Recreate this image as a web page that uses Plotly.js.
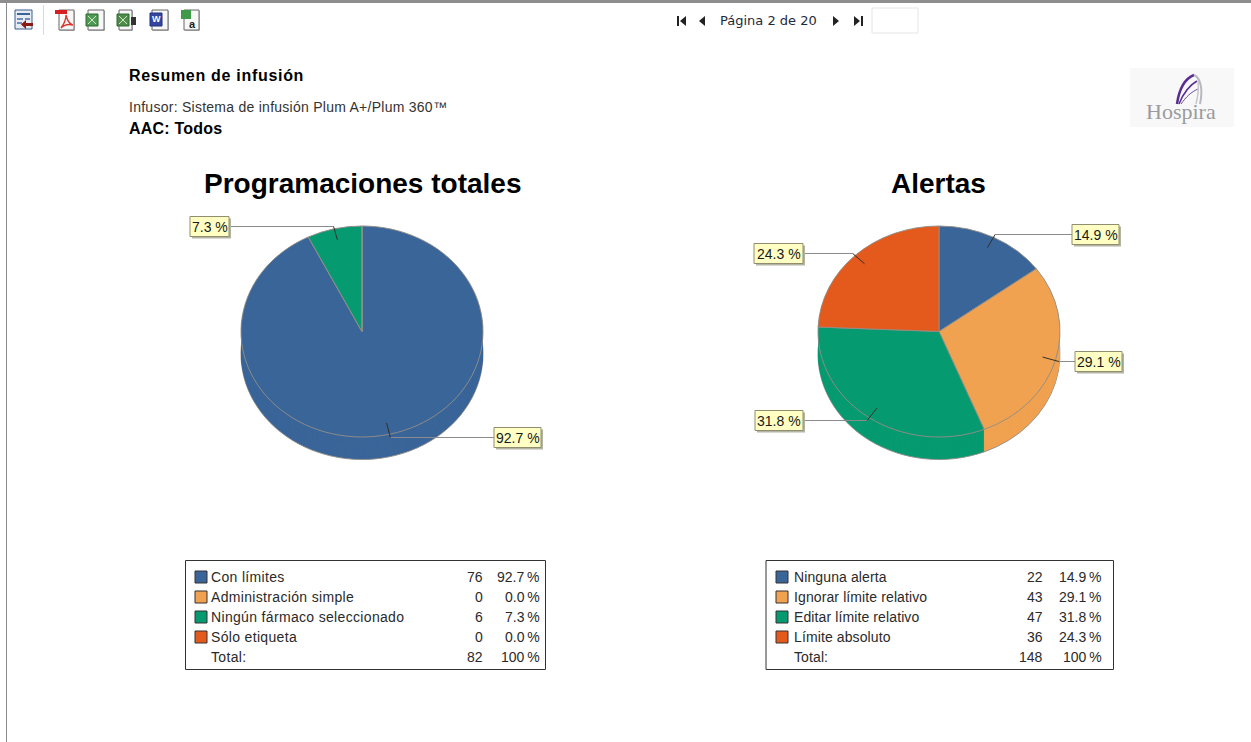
<!DOCTYPE html>
<html><head><meta charset="utf-8">
<script src="https://cdn.plot.ly/plotly-3.0.1.min.js"></script>
<style>html,body{margin:0;padding:0;background:#fff;overflow:hidden}</style>
</head><body><div id="chart" style="width:1251px;height:742px"></div>
<script>
// ---- data ----
const leftTitle = "Programaciones totales";
const leftCategories = ["Con límites", "Administración simple", "Ningún fármaco seleccionado", "Sólo etiqueta"];
const leftValues = [76, 0, 6, 0];
const leftPercents = ["92.7", "0.0", "7.3", "0.0"];
const leftTotal = 82;
const rightTitle = "Alertas";
const rightCategories = ["Ninguna alerta", "Ignorar límite relativo", "Editar límite relativo", "Límite absoluto"];
const rightValues = [22, 43, 47, 36];
const rightPercents = ["14.9", "29.1", "31.8", "24.3"];
const rightTotal = 148;
const sliceColors = ["#3a6599", "#f0a250", "#069a70", "#e35a1c"];

// ---- page geometry ----
const W = 1251, H = 742;
const fx = p => p / W, fy = p => 1 - p / H;
const RX = 121, RY = 105.5, CY = 331.5, DEPTH = 22.5, K = RY / RX;
const shapes = [], annotations = [], traces = [], spacing = [];

function text(x, y, t, size, opts) {
  opts = opts || {};
  spacing.push(opts.ls || 0);
  annotations.push({xref:'paper', yref:'paper', x:fx(x), y:fy(y), text:t, showarrow:false,
    xanchor:opts.anchor||'left', yanchor:'middle', borderpad:0, borderwidth:0,
    font:{family:opts.family||'"Liberation Sans", Arial, sans-serif', size:size, color:opts.color||'#1a1a1a',
      weight:opts.bold?700:400, style:opts.italic?'italic':'normal'}});
}
function rect(x0, y0, x1, y1, fill, line, lw) {
  shapes.push({type:'rect', xref:'paper', yref:'paper', x0:fx(x0), x1:fx(x1), y0:fy(y1), y1:fy(y0),
    fillcolor:fill||'rgba(0,0,0,0)', line:{color:line||'rgba(0,0,0,0)', width:lw===undefined?(line?1:0):lw}});
}
function seg(pts, color, w) {
  pts.slice(1).forEach((p, i) => shapes.push({type:'line', xref:'paper', yref:'paper',
    x0:fx(pts[i][0]), y0:fy(pts[i][1]), x1:fx(p[0]), y1:fy(p[1]), line:{color:color, width:w||1}}));
}
function poly(pts, fill) {
  const path = pts.map((p, i) => (i ? 'L' : 'M') + p[0] + ' ' + p[1]).join(' ') + ' Z';
  shapes.push({type:'path', xref:'x', yref:'y', path:path, fillcolor:fill, line:{width:0}});
}
function curve(path, color, w) {
  shapes.push({type:'path', xref:'x', yref:'y', path:path, fillcolor:'rgba(0,0,0,0)', line:{color:color, width:w}});
}

// ---- pies: stacked layers give the extruded wall ----
function addPie(cx, cats, vals) {
  const steps = Math.ceil(DEPTH);
  for (let i = steps; i >= 0; i--) {
    const cy = CY + (i / steps) * DEPTH / K;
    const edge = i === 0 || i === steps;
    traces.push({type:'pie', labels:cats, values:vals, sort:false, direction:'clockwise', rotation:0,
      textinfo:'none', hoverinfo:'skip', showlegend:false,
      domain:{x:[fx(cx - RX), fx(cx + RX)], y:[fy(cy + RX), fy(cy - RX)]},
      marker:{colors:sliceColors, line:{
        color: edge ? '#918d87' : 'rgba(0,0,0,0)',
        width: edge ? 1 : 0}}});
  }
}
addPie(362, leftCategories, leftValues);
addPie(939, rightCategories, rightValues);

// ---- callouts: the leader follows the slice's mid angle ----
function callouts(cx, vals, pcts, boxes) {
  const total = vals.reduce((a, b) => a + b, 0);
  let acc = 0;
  vals.forEach((v, i) => {
    const a = (acc + v / 2) / total * 2 * Math.PI; acc += v;
    if (!boxes[i]) return;
    const [bx0, bx1] = boxes[i];
    const px = f => cx + RX * Math.sin(a) * f, py = f => CY - RY * Math.cos(a) * f;
    const ey = Math.round(py(1.03)) + 0.5, edge = bx0 > cx ? bx0 : bx1;
    seg([[edge, ey], [px(1.03), ey]], '#8b8b8b', 1);
    seg([[px(1.03), ey], [px(0.89), py(0.89)]], '#33302a', 1);
    rect(bx0 + 2, ey - 8, bx1 + 2, ey + 12, '#b4b4a4');
    rect(bx0, ey - 10, bx1, ey + 10, '#ffffc4', '#8f8f70', 1);
    text((bx0 + bx1) / 2, ey, pcts[i] + ' %', 14, {anchor:'center'});
  });
}
callouts(362, leftValues, leftPercents, [[494, 541], null, [190, 229], null]);
callouts(939, rightValues, rightPercents, [[1072, 1119], [1075, 1122], [755, 803], [754, 803]]);

// ---- chart titles ----
text(362, 183.5, leftTitle, 28, {anchor:'center', bold:true, color:'#000'});
text(938, 183.5, rightTitle, 28, {anchor:'center', bold:true, color:'#000'});

// ---- legend tables ----
function table(x0, x1, swX, labelX, numX, pctX, ls, cats, vals, pcts, total) {
  rect(x0, 560.5, x1, 669.5, '#fff', '#333', 1);
  const row = i => 577 + 20 * i;
  cats.forEach((c, i) => {
    rect(swX, row(i) - 6, swX + 12, row(i) + 6, sliceColors[i], '#333', 1);
    text(labelX, row(i), c, 14, {ls:ls, color:'#2a2a2a'});
    text(numX, row(i), String(vals[i]), 14, {anchor:'right', color:'#2a2a2a'});
    text(pctX, row(i), pcts[i] + '\u2009%', 14, {anchor:'right', color:'#2a2a2a'});
  });
  text(labelX, row(4), 'Total:', 14, {ls:ls, color:'#2a2a2a'});
  text(numX, row(4), String(total), 14, {anchor:'right', color:'#2a2a2a'});
  text(pctX, row(4), '100\u2009%', 14, {anchor:'right', color:'#2a2a2a'});
}
table(185.5, 545.5, 195, 211, 483, 540, 0.33, leftCategories, leftValues, leftPercents, leftTotal);
table(766, 1113.5, 776, 794, 1043, 1102, 0.11, rightCategories, rightValues, rightPercents, rightTotal);

// ---- report header ----
text(129, 75, 'Resumen de infusión', 16, {bold:true, color:'#000', ls:0.7});
text(129, 107, 'Infusor: Sistema de infusión Plum A+/Plum 360™', 14, {color:'#333', ls:0.26});
text(129, 128, 'AAC: Todos', 16, {bold:true, color:'#000', ls:0.2});

// ---- viewer chrome ----
rect(0, 0, W, 3, '#8e8e8e');
rect(6, 3, 7, H, '#8a8a8a');
rect(43, 5, 44, 35, '#d9d9d9');

// back-to-report icon
rect(15, 10, 32, 29, '#e6ebf3', '#3a5a8a', 1);
rect(17, 13, 30, 15, '#3a6599'); rect(17, 18, 23, 20, '#6f8db5'); rect(17, 22, 22, 24, '#6f8db5'); rect(25, 18, 30, 20, '#6f8db5');
poly([[21,24.5],[26,20],[26,23],[33,23],[33,26],[26,26],[26,29]], '#8a1b12');

// export icons
function docIcon(x0, x1) {
  rect(x0 + 1, 11, x1 + 1, 31, '#c4c4c4');
  rect(x0, 10, x1, 30, '#f7f7f7', '#666', 1);
}
docIcon(59, 74);
rect(55, 10, 67, 14, '#d81e1e');
curve('M 61 28 C 64 24 66 19 66 15 C 67 20 70 24 73 25 C 69 24 64 25 61 28', '#d9342b', 1.3);

docIcon(88, 104);
rect(86, 14, 98, 26, '#4f9a52', '#2f6b33', 1);
seg([[88, 16], [96, 24]], '#cfe6cf', 1); seg([[96, 16], [88, 24]], '#cfe6cf', 1);

docIcon(119, 132);
rect(117, 14, 129, 26, '#4f8a48', '#2f6b33', 1);
seg([[119, 16], [127, 24]], '#cfe6cf', 1); seg([[127, 16], [119, 24]], '#cfe6cf', 1);
rect(131, 17, 136, 25, '#333');

docIcon(152, 168);
rect(150, 13, 162, 26, '#3446a0', '#22307a', 1);
text(156, 19.5, 'W', 9, {anchor:'center', bold:true, color:'#fff'});

docIcon(184, 199);
rect(181, 10, 191, 19, '#3f9a4a');
text(192, 24, 'a', 11, {anchor:'center', bold:true, color:'#222'});

// pager
poly([[677,16],[679,16],[679,26],[677,26]], '#222');
poly([[686,16],[686,26],[680,21]], '#222');
poly([[705,16],[705,26],[699,21]], '#222');
text(720, 21, 'Página 2 de 20', 13, {family:'"DejaVu Sans", Verdana, sans-serif', color:'#1c2a3a'});
poly([[833,16],[833,26],[839,21]], '#222');
poly([[854,16],[854,26],[860,21]], '#222');
poly([[861,16],[863,16],[863,26],[861,26]], '#222');
rect(872, 8, 918, 33, '#fff', '#e4e4e4', 1);

// logo
rect(1130, 68, 1234, 127, '#f8f8f8');
curve('M 1177 104 C 1179 90 1184 79 1194 75', '#5a2d91', 2.5);
curve('M 1179 104 C 1183 94 1188 86 1197 81', '#5a2d91', 1.5);
curve('M 1181 104 C 1186 97 1191 92 1198 89', '#6f4aa3', 1);
curve('M 1194 75 C 1201 78 1203 90 1200 104', '#b8b8be', 2);
curve('M 1198 81 C 1199 88 1198 96 1196 104', '#c8c8cc', 1.5);
text(1181, 112, 'Hospira', 22, {anchor:'center', family:'"Liberation Serif", serif', italic:false, color:'#9a9b9f'});

const layout = {
  width:W, height:H, margin:{l:0, r:0, t:0, b:0}, paper_bgcolor:'#fff', plot_bgcolor:'rgba(0,0,0,0)',
  showlegend:false, shapes:shapes, annotations:annotations,
  xaxis:{range:[0, W], visible:false, fixedrange:true},
  yaxis:{range:[H, 0], visible:false, fixedrange:true}
};
Plotly.newPlot('chart', traces, layout, {staticPlot:true, displayModeBar:false}).then(() => {
  // flatten the circles into the reference's tilted ellipses, about the pie centre line
  document.querySelectorAll('.pielayer').forEach(g =>
    g.setAttribute('transform', 'translate(0,' + (CY * (1 - K)) + ') scale(1,' + K + ')'));
  // tracking of left-aligned labels, which Plotly fonts cannot express; keep the left edge fixed
  document.querySelectorAll('.annotation').forEach(g => {
    const i = +g.getAttribute('data-index');
    if (!spacing[i]) return;
    const t = g.querySelector('.annotation-text');
    const before = t.getBBox().x;
    t.style.letterSpacing = spacing[i] + 'px';
    const after = t.getBBox().x;
    t.setAttribute('transform', 'translate(' + (before - after) + ',0)');
  });
});
</script></body></html>
